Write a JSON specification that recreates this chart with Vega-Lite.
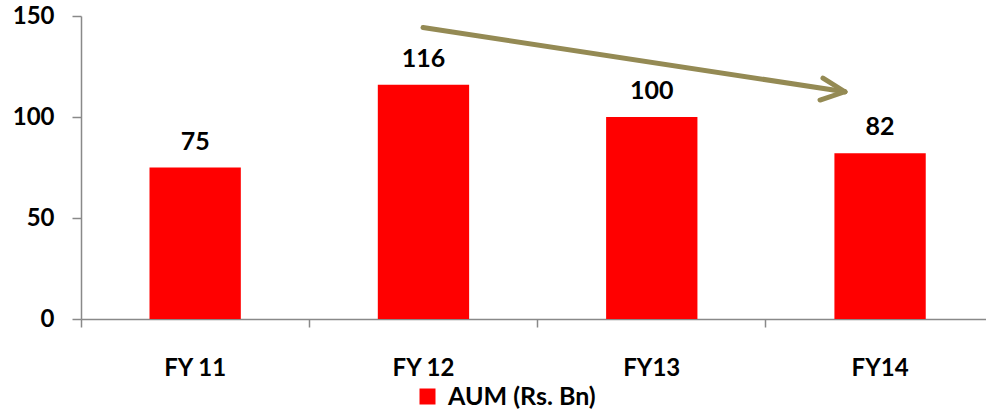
{
  "$schema": "https://vega.github.io/schema/vega-lite/v6.json",
  "autosize": {"type": "none"},
  "width": 905,
  "height": 303,
  "padding": {"left": 81, "top": 16, "right": 0, "bottom": 90},
  "config": {
    "view": {"stroke": null},
    "font": "Lato",
    "axis": {"grid": false, "domainColor": "#898989", "tickColor": "#898989", "domainWidth": 1.5, "tickWidth": 1.5, "labelFont": "Lato", "labelFontWeight": "bold", "labelFontSize": 24, "labelColor": "#000000", "title": null}
  },
  "datasets": {
    "bars": [
      {"year": "FY 11", "aum": 75, "series": "AUM (Rs. Bn)"},
      {"year": "FY 12", "aum": 116, "series": "AUM (Rs. Bn)"},
      {"year": "FY13", "aum": 100, "series": "AUM (Rs. Bn)"},
      {"year": "FY14", "aum": 82, "series": "AUM (Rs. Bn)"}
    ],
    "arrow": [
      {"seg": "shaft", "x1": 1.498, "y1": 144.3, "x2": 3.346, "y2": 112.5},
      {"seg": "upper", "x1": 3.250, "y1": 119.3, "x2": 3.346, "y2": 112.5},
      {"seg": "lower", "x1": 3.237, "y1": 108.4, "x2": 3.346, "y2": 112.5}
    ]
  },
  "layer": [
    {
      "data": {"name": "bars"},
      "encoding": {
        "x": {
          "field": "year", "type": "nominal", "sort": null,
          "scale": {"paddingInner": 0.6, "paddingOuter": 0.282, "align": 0.532},
          "axis": {"labelAngle": 0, "bandPosition": -0.75, "tickSize": 8, "labelPadding": 29}
        },
        "y": {
          "field": "aum", "type": "quantitative",
          "scale": {"domain": [0, 150], "nice": false},
          "axis": {"values": [0, 50, 100, 150], "tickSize": 9, "labelPadding": 18}
        }
      },
      "layer": [
        {
          "mark": {"type": "bar", "color": "#FF0000"},
          "encoding": {
            "color": {
              "field": "series", "type": "nominal",
              "scale": {"range": ["#FF0000"]},
              "legend": {
                "title": null, "orient": "none", "legendX": 334, "legendY": 368,
                "padding": 0, "symbolType": "square", "symbolSize": 256, "symbolStrokeWidth": 0,
                "labelFont": "Lato", "labelFontWeight": "bold", "labelFontSize": 25, "labelColor": "#000000",
                "labelOffset": 8
              }
            }
          }
        },
        {
          "mark": {"type": "text", "baseline": "alphabetic", "dy": -18, "font": "Lato", "fontWeight": "bold", "fontSize": 25, "color": "#000000"},
          "encoding": {
            "text": {"field": "aum", "type": "quantitative"}
          }
        }
      ]
    },
    {
      "data": {"name": "arrow"},
      "mark": {"type": "rule", "color": "#948A54", "strokeWidth": 5, "strokeCap": "round"},
      "encoding": {
        "x": {"field": "x1", "type": "quantitative", "scale": {"domain": [0, 3.964], "nice": false, "zero": false}, "axis": null},
        "x2": {"field": "x2"},
        "y": {"field": "y1", "type": "quantitative"},
        "y2": {"field": "y2"}
      }
    }
  ],
  "resolve": {"scale": {"x": "independent"}, "axis": {"x": "independent"}}
}
